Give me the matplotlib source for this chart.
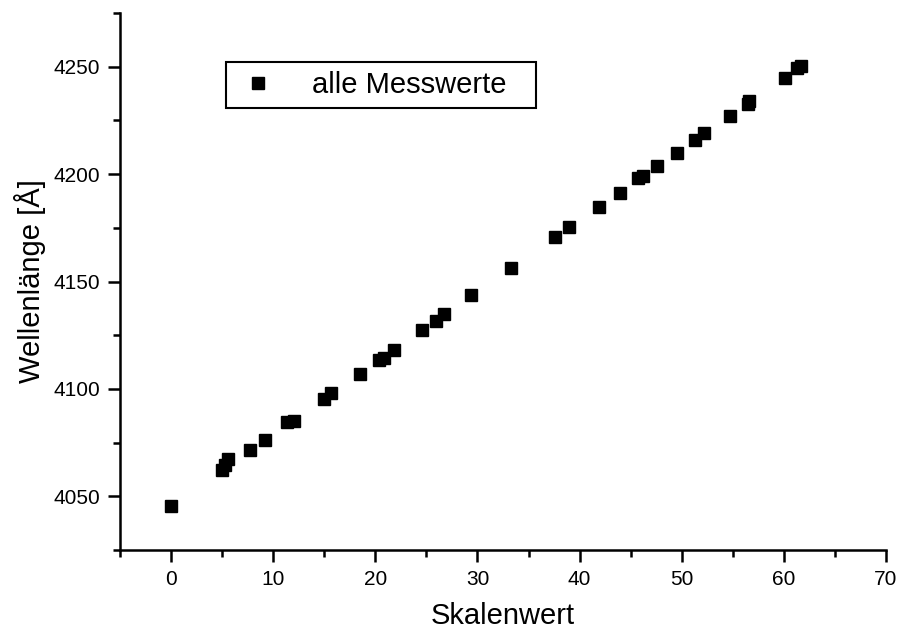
import matplotlib
matplotlib.use('Agg')
from matplotlib import pyplot as plt
import numpy as np

plt.rcParams['font.family'] = ['Liberation Sans', 'DejaVu Sans']

# Skalenwert / Wellenlaenge
skala = [0.0, 5.0, 5.3, 5.6, 7.7, 9.2, 11.4, 12.0, 15.0, 15.7, 18.5, 20.4, 20.8,
         21.8, 24.6, 25.9, 26.7, 29.4, 33.3, 37.6, 39.0, 41.9, 44.0, 45.7, 46.2,
         47.6, 49.5, 51.3, 52.2, 54.7, 56.5, 56.6, 60.1, 61.3, 61.7]
welle = [4045.7, 4062.2, 4064.5, 4067.2, 4071.4, 4076.4, 4084.8, 4085.0, 4095.1,
         4097.9, 4107.1, 4113.6, 4114.4, 4118.2, 4127.2, 4131.5, 4134.7, 4143.5,
         4156.4, 4170.9, 4175.4, 4184.9, 4191.3, 4198.3, 4199.2, 4203.8, 4209.9,
         4215.9, 4219.2, 4227.1, 4232.6, 4234.2, 4244.7, 4249.6, 4250.4]

fig = plt.figure(figsize=(8.97, 6.34), dpi=100)
ax = fig.add_axes([120/897, 1-550/634, 766/897, 537/634])

ax.plot(skala, welle, linestyle='none', marker='s', markersize=9.3,
        color='black', label='alle Messwerte')

ax.set_xlim(-5, 70)
ax.set_ylim(4025, 4275)
ax.set_xticks(np.arange(0, 71, 10))
ax.set_xticks(np.arange(-5, 71, 10), minor=True)
ax.set_yticks(np.arange(4050, 4251, 50))
ax.set_yticks(np.arange(4025, 4276, 50), minor=True)

for s in ['top', 'right']:
    ax.spines[s].set_visible(False)
for s in ['left', 'bottom']:
    ax.spines[s].set_linewidth(1.8)

ax.tick_params(which='major', direction='out', length=8.5, width=1.8,
               labelsize=15, pad=6)
ax.tick_params(which='minor', direction='out', length=4.8, width=1.8)

ax.set_xlabel('Skalenwert', fontsize=21, labelpad=9)
ax.set_ylabel('Wellenlänge [Å]', fontsize=21, labelpad=5)

leg = ax.legend(loc='upper left', bbox_to_anchor=(0.138, 0.908, 0.405, 0.0),
                mode='expand', borderaxespad=0, fontsize=21, numpoints=1,
                handlelength=1.6, handletextpad=1.05, borderpad=0.3,
                fancybox=False, framealpha=1, edgecolor='black')
leg.get_frame().set_linewidth(1.5)

fig.savefig('out.png', dpi=100)
